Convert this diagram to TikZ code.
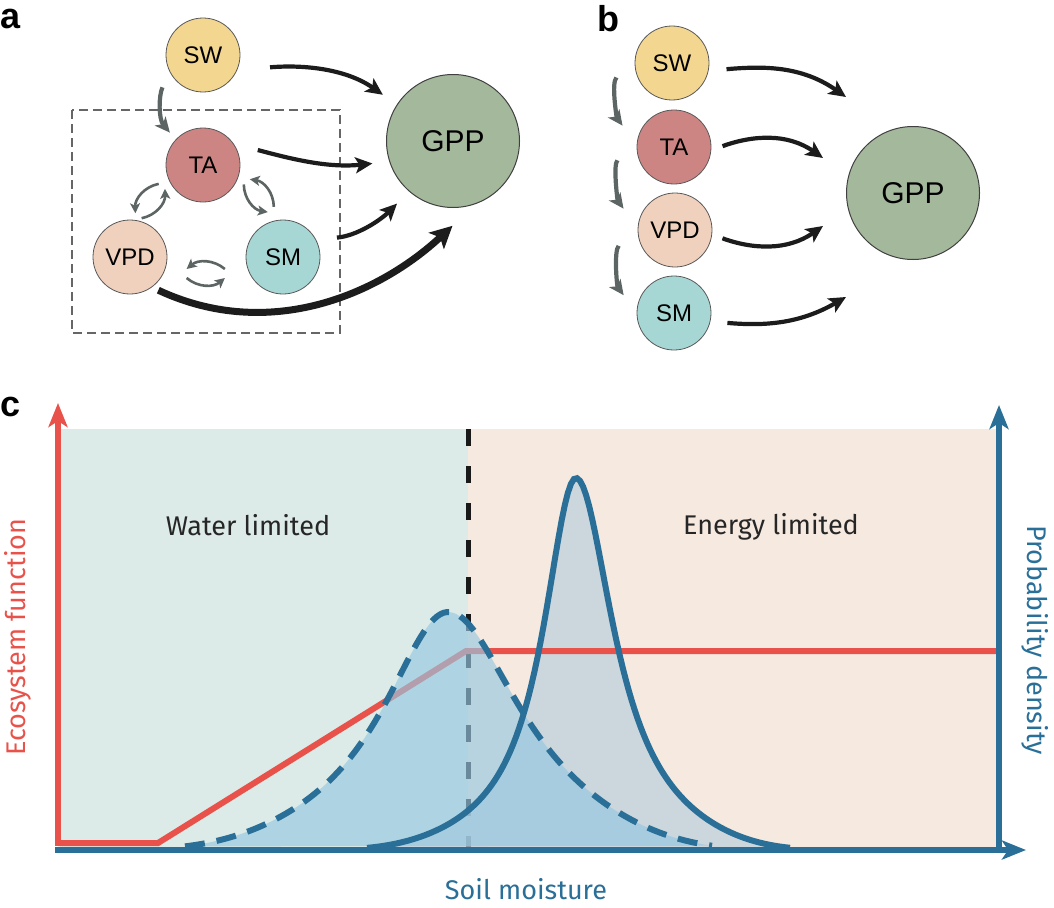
\documentclass[tikz,border=0pt]{standalone}
\usepackage{fontspec}
\setmainfont{Liberation Sans}
\newfontfamily\plotfont{Fira Sans}
\usepackage{tikz}
\usetikzlibrary{arrows.meta, calc}

\definecolor{swfill}{HTML}{F3D690}
\definecolor{tafill}{HTML}{CD8584}
\definecolor{vpdfill}{HTML}{F0D1BD}
\definecolor{smfill}{HTML}{A7D7D4}
\definecolor{gppfill}{HTML}{A4B89C}
\definecolor{arrowgray}{HTML}{5C6563}
\definecolor{arrowblack}{HTML}{1C1C1C}
\definecolor{waterbg}{HTML}{DCEBE7}
\definecolor{energybg}{HTML}{F5E9E0}
\definecolor{redline}{HTML}{E9524A}
\definecolor{blueline}{HTML}{2A6F98}
\definecolor{wetfill}{RGB}{150,200,225}
\definecolor{dryfill}{RGB}{188,206,221}

\begin{document}
\begin{tikzpicture}[x=1pt, y=1pt,
    varnode/.style={circle, draw=black!65, line width=0.8pt, minimum size=74pt, inner sep=0pt, font=\fontsize{24}{26}\selectfont},
    gppnode/.style={circle, draw=black!75, line width=1pt, fill=gppfill, minimum size=133pt, inner sep=0pt, font=\fontsize{30}{32}\selectfont},
    panel/.style={inner sep=0pt, font=\fontsize{36}{36}\selectfont\bfseries},
    effect/.style={draw=arrowblack, line width=4.2pt, -{Stealth[length=17pt, width=16pt, inset=4pt]}},
    chain/.style={draw=arrowgray, line width=4.2pt, -{Stealth[length=15pt, width=14pt, inset=4pt]}},
    swaparrow/.style={draw=arrowgray, line width=2.6pt, -{Stealth[length=10pt, width=10pt, inset=2.5pt]}},
    boxline/.style={draw=black!60, line width=1.4pt, dash pattern=on 9pt off 5pt},
    region/.style={font=\plotfont\fontsize{27}{29}\selectfont, text=black!85},
    axislabel/.style={font=\plotfont\fontsize{27}{29}\selectfont},
    axistip/.style={-{Stealth[length=24pt, width=19pt, inset=6pt]}},
    declare function={
      damp(\d,\w)=exp(-(\d/\w)*(\d/\w)*(\d/\w)*(\d/\w));
      bump(\d,\g,\w)=damp(\d,\w)/(1+(\d/\g)*(\d/\g));
      drydens(\x)=372*bump(\x-576,(\x<576)*40+(\x>=576)*46,180);
      wetdens(\x)=238*bump(\x-448,(\x<448)*80+(\x>=448)*89,230);
    }]
  \useasboundingbox (0,0) rectangle (1054,-907);

  % ---------- Panel a ----------
  \node[panel] (la) at (11,-19) {a};
  \node[varnode, fill=swfill] (SWa) at (203,-55) {SW};
  \node[varnode, fill=tafill] (TAa) at (203,-165) {TA};
  \node[varnode, fill=vpdfill] (VPDa) at (130,-257) {VPD};
  \node[varnode, fill=smfill] (SMa) at (283,-257) {SM};
  \node[gppnode] (GPPa) at (453,-141) {GPP};

  % Coupled variables
  \draw[boxline] (72,-110) rectangle (340,-333);

  % Effects on GPP
  \draw[effect, shorten <=33pt, shorten >=17pt] (SWa.-24) to[out=5, in=145] (GPPa.147);
  \draw[effect, shorten <=25pt, shorten >=17pt] (TAa.35) to[out=-15, in=186] (GPPa.198);
  \draw[effect, shorten <=21pt, shorten >=17pt] (SMa.28) to[out=5, in=225] (GPPa.229);
  \draw[effect, line width=7pt, shorten <=7pt, shorten >=32pt,
        -{Stealth[length=22pt, width=22pt, inset=5pt]}] (VPDa.-54) to[out=-25, in=223] (GPPa.-70);

  % SW drives TA
  \draw[chain, shorten <=17pt, shorten >=9pt] (SWa.207) to[out=245, in=130] (TAa.137);

  % Feedbacks
  \draw[swaparrow] ($(TAa)!0.36!(VPDa)!23pt!-90:(VPDa)$) to[bend right=40] ($(TAa)!0.68!(VPDa)!23pt!-90:(VPDa)$);
  \draw[swaparrow] ($(TAa)!0.68!(VPDa)!15pt!-90:(VPDa)$) to[bend right=40] ($(TAa)!0.36!(VPDa)!15pt!-90:(VPDa)$);
  \draw[swaparrow] ($(SMa)!0.36!(TAa)!26pt!-90:(TAa)$) to[bend right=40] ($(SMa)!0.66!(TAa)!26pt!-90:(TAa)$);
  \draw[swaparrow] ($(SMa)!0.66!(TAa)!18pt!-90:(TAa)$) to[bend right=40] ($(SMa)!0.36!(TAa)!18pt!-90:(TAa)$);
  \draw[swaparrow] ($(VPDa)!0.37!(SMa)!21pt!-90:(SMa)$) to[bend right=40] ($(VPDa)!0.62!(SMa)!21pt!-90:(SMa)$);
  \draw[swaparrow] ($(VPDa)!0.62!(SMa)!12pt!-90:(SMa)$) to[bend right=40] ($(VPDa)!0.37!(SMa)!12pt!-90:(SMa)$);

  % ---------- Panel b ----------
  \node[panel] (lb) at (608,-19) {b};
  \node[varnode, fill=swfill] (SWb) at (672,-63) {SW};
  \node[varnode, fill=tafill] (TAb) at (674,-147) {TA};
  \node[varnode, fill=vpdfill] (VPDb) at (675,-230) {VPD};
  \node[varnode, fill=smfill] (SMb) at (674,-313) {SM};
  \node[gppnode] (GPPb) at (913,-193) {GPP};

  % Arrow ends in front of GPP
  \coordinate (pSW) at ($(GPPb)+(-67,96)$);
  \coordinate (pTA) at ($(GPPb)+(-90,35)$);
  \coordinate (pVPD) at ($(GPPb)+(-90,-33)$);
  \coordinate (pSM) at ($(GPPb)+(-67,-104)$);

  % Effects on GPP
  \draw[effect, shorten <=18pt] (SWb.-12) to[out=5, in=145] (pSW);
  \draw[effect, shorten <=12pt] (TAb.-5) to[out=20, in=145] (pTA);
  \draw[effect, shorten <=11pt] (VPDb.-7) to[out=-20, in=215] (pVPD);
  \draw[effect, shorten <=17pt] (SMb.-13) to[out=-5, in=210] (pSM);

  % Cascade
  \draw[chain, shorten <=26pt, shorten >=24pt] (SWb.174) to[out=225, in=126] (TAb.177);
  \draw[chain, shorten <=28pt, shorten >=24pt] (TAb.170) to[out=225, in=126] (VPDb.177);
  \draw[chain, shorten <=27pt, shorten >=22pt] (VPDb.175) to[out=225, in=126] (SMb.180);

  % ---------- Panel c ----------
  \node[panel] (lc) at (11,-407) {c};

  % Regimes
  \fill[waterbg] (60,-429) rectangle (468,-850);
  \fill[energybg] (468,-429) rectangle (999,-850);
  \draw[black!90, line width=5pt, dash pattern=on 17pt off 20pt] (468,-429) -- (468,-850);
  \node[region] (wl) at (248,-525) {Water limited};
  \node[region] (el) at (771,-527) {Energy limited};

  % Densities and ecosystem function
  \fill[dryfill, fill opacity=0.7] plot[domain=367:790, samples=140] (\x,{-850+drydens(\x)}) -- cycle;
  \draw[redline, line width=6pt] (58,-843) -- (158,-843) -- (466,-651) -- (999,-651);
  \fill[wetfill, fill opacity=0.65] plot[domain=185:712, samples=160] (\x,{-850+wetdens(\x)}) -- cycle;
  \draw[blueline, line width=6pt] plot[domain=367:790, samples=140] (\x,{-850+drydens(\x)});
  \draw[blueline, line width=6pt, dash pattern=on 20pt off 12pt] plot[domain=185:712, samples=160] (\x,{-850+wetdens(\x)});

  % Axes
  \draw[redline, line width=6.5pt, axistip] (58,-846) -- (58,-403);
  \draw[blueline, line width=6.5pt, axistip] (999,-850) -- (999,-405);
  \draw[blueline, line width=6.5pt, axistip] (55,-850) -- (1026,-850);
  \node[axislabel, text=redline, rotate=90] (ef) at (18,-637) {Ecosystem function};
  \node[axislabel, text=blueline, rotate=-90] (pd) at (1035,-640) {Probability density};
  \node[axislabel, text=blueline] (sm) at (526,-889) {Soil moisture};
\end{tikzpicture}
\end{document}
